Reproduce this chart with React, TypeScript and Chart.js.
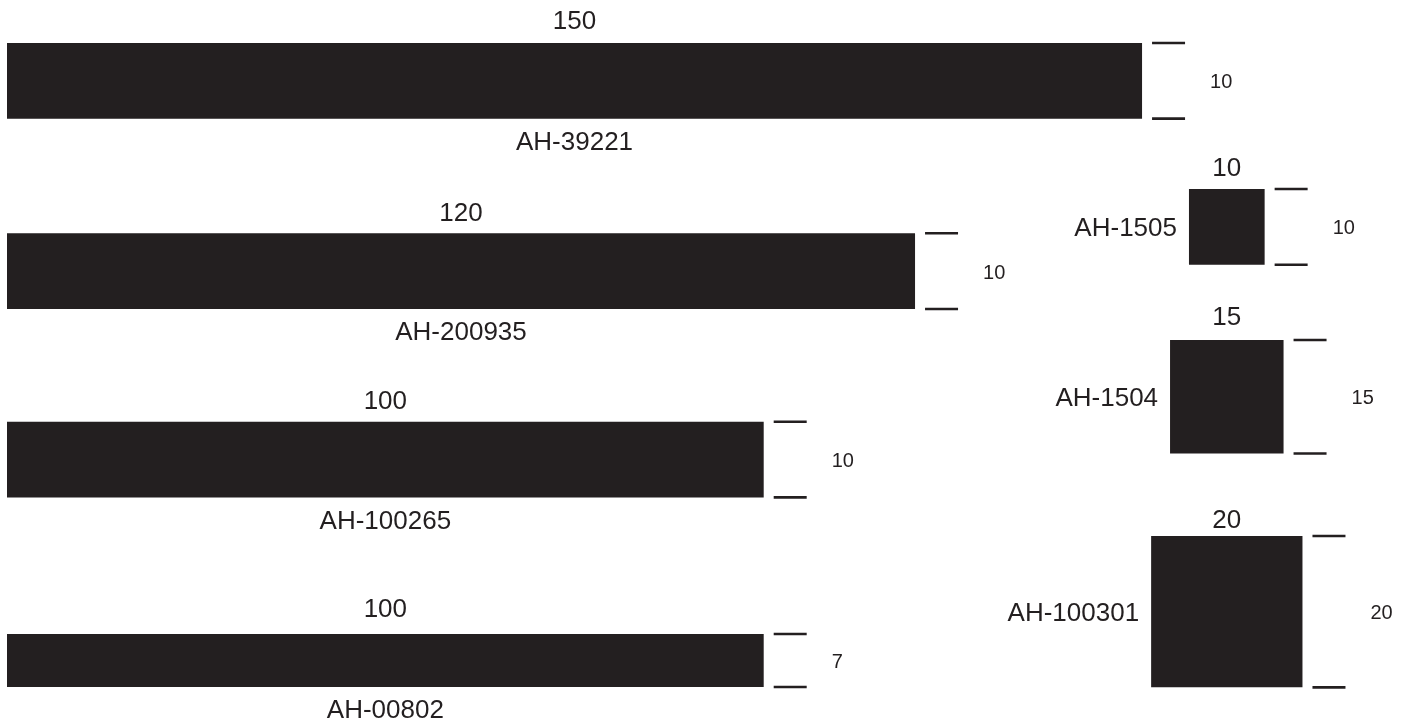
import React, { useEffect, useRef } from "react";
import { Chart, registerables } from "chart.js";

Chart.register(...registerables);

// ---- data ----
const partNames = ["AH-39221", "AH-200935", "AH-100265", "AH-00802", "AH-1505", "AH-1504", "AH-100301"];
const widthValues = [150, 120, 100, 100, 10, 15, 20];
const heightValues = [10, 10, 10, 7, 10, 15, 20];

// ---- layout (units of the drawing, separate from data) ----
const layoutLeft = [0, 0, 0, 0, 156.2, 153.7, 151.2];
const layoutTop = [0, 25.15, 50.05, 78.1, 19.3, 39.25, 65.15];
const namePlacement = ["below", "below", "below", "below", "left", "left", "left"];
const widthLabelGap = [14.5, 12, 12.4, 17, 13, 15, 8];

const INK = "#231f20";
const PX_PER_UNIT = 7.567;
const W = 1402;
const H = 722;
const X_MIN = -7 / PX_PER_UNIT;
const Y_MIN = -43 / PX_PER_UNIT;
const TICK_GAP = 10 / PX_PER_UNIT;
const TICK_LEN = 33 / PX_PER_UNIT;
const FONT = '"Liberation Sans", Arial, Helvetica, sans-serif';

export default function App() {
  const ref = useRef<HTMLCanvasElement | null>(null);

  useEffect(() => {
    if (!ref.current) return;
    const datasets: any[] = [];
    partNames.forEach((name, i) => {
      const x0 = layoutLeft[i];
      const x1 = x0 + widthValues[i];
      const y0 = layoutTop[i];
      const y1 = y0 + heightValues[i];
      datasets.push({
        label: name,
        data: [
          { x: x0, y: y0 },
          { x: x1, y: y0 },
          { x: x1, y: y1 },
          { x: x0, y: y1 },
          { x: x0, y: y0 },
        ],
        showLine: true,
        fill: "shape",
        backgroundColor: INK,
        borderColor: INK,
        borderWidth: 0,
        pointRadius: 0,
        tension: 0,
      });
      [y0, y1].forEach((yy) => {
        datasets.push({
          label: name + "-tick",
          data: [
            { x: x1 + TICK_GAP, y: yy },
            { x: x1 + TICK_GAP + TICK_LEN, y: yy },
          ],
          showLine: true,
          fill: false,
          borderColor: INK,
          borderWidth: 2.6,
          borderCapStyle: "butt",
          pointRadius: 0,
        });
      });
    });

    const labelPlugin = {
      id: "dimLabels",
      afterDatasetsDraw(chart: any) {
        const ctx = chart.ctx;
        const xs = chart.scales.x;
        const ys = chart.scales.y;
        ctx.save();
        ctx.fillStyle = INK;
        partNames.forEach((name, i) => {
          const x0 = xs.getPixelForValue(layoutLeft[i]);
          const x1 = xs.getPixelForValue(layoutLeft[i] + widthValues[i]);
          const yTop = ys.getPixelForValue(layoutTop[i]);
          const yBot = ys.getPixelForValue(layoutTop[i] + heightValues[i]);
          const cx = (x0 + x1) / 2;
          const cy = (yTop + yBot) / 2;
          // width label above
          ctx.font = "26px " + FONT;
          ctx.textAlign = "center";
          ctx.textBaseline = "alphabetic";
          ctx.fillText(String(widthValues[i]), cx, yTop - widthLabelGap[i]);
          // name label
          if (namePlacement[i] === "below") {
            ctx.textAlign = "center";
            ctx.fillText(name, cx, yBot + 31.5);
          } else {
            ctx.textAlign = "right";
            ctx.fillText(name, x0 - 12, cy + 9.3);
          }
          // height label right
          ctx.font = "20px " + FONT;
          ctx.textAlign = "left";
          ctx.fillText(String(heightValues[i]), x1 + 68, cy + 7.5);
        });
        ctx.restore();
      },
    };

    const chart = new Chart(ref.current, {
      type: "scatter",
      data: { datasets },
      options: {
        animation: false,
        responsive: false,
        maintainAspectRatio: false,
        layout: { padding: 0 },
        plugins: {
          legend: { display: false },
          tooltip: { enabled: false },
          title: { display: false },
        },
        scales: {
          x: {
            type: "linear",
            display: false,
            min: X_MIN,
            max: X_MIN + W / PX_PER_UNIT,
          },
          y: {
            type: "linear",
            display: false,
            reverse: true,
            min: Y_MIN,
            max: Y_MIN + H / PX_PER_UNIT,
          },
        },
      },
      plugins: [labelPlugin],
    });
    return () => chart.destroy();
  }, []);

  return (
    <div
      style={{
        position: "fixed",
        left: 0,
        top: 0,
        width: W,
        height: H,
        overflow: "hidden",
        background: "#ffffff",
      }}
    >
      <canvas ref={ref} width={W} height={H} style={{ width: W, height: H, display: "block" }} />
    </div>
  );
}
